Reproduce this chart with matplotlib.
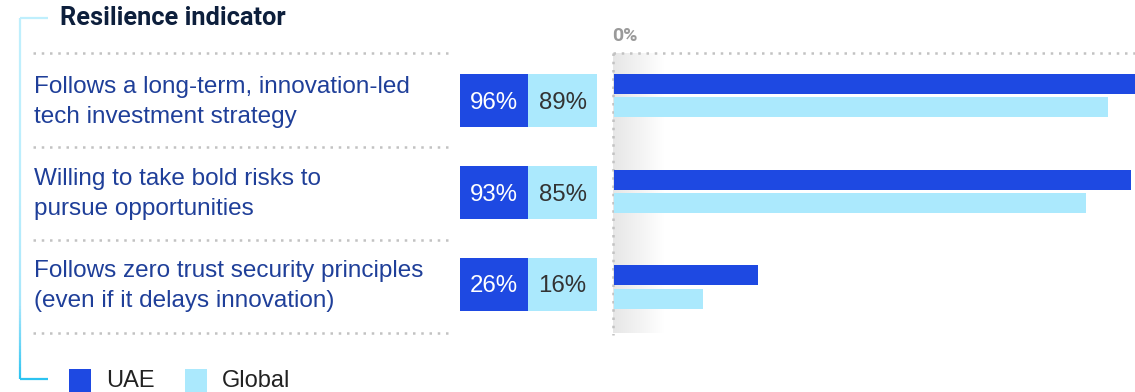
import numpy as np
import matplotlib.pyplot as plt
from matplotlib.patches import Rectangle
from matplotlib.collections import LineCollection

plt.rcParams['font.family'] = ['Liberation Sans', 'DejaVu Sans']

# --- data ---
indicators = [
    "Follows a long-term, innovation-led\ntech investment strategy",
    "Willing to take bold risks to\npursue opportunities",
    "Follows zero trust security principles\n(even if it delays innovation)",
]
uae = [96, 93, 26]
global_vals = [89, 85, 16]
series_names = ["UAE", "Global"]

UAE_COLOR = "#1e49e2"
GLOBAL_COLOR = "#abe9fd"
LABEL_COLOR = "#1f3f99"
DOT_COLOR = "#c2c2c2"

W, H = 1135, 392
fig = plt.figure(figsize=(W / 100, H / 100), dpi=100)

# overlay axes in pixel units for the frame, table and legend
ov = fig.add_axes([0, 0, 1, 1])
ov.set_xlim(0, W)
ov.set_ylim(H, 0)
ov.axis("off")

# row geometry (pixels): bars and the label/table column use slightly different pitches
row_y0, row_step = 95.5, 95.75
box_y0, box_step = 100.5, 92.0
top_y, bot_y = 53, 333
zero_x = 613
px_per_pct = 5.56


def box_center(i):
    return box_y0 + i * box_step


def dotted(ax, xs, ys, **kw):
    ax.plot(xs, ys, color=DOT_COLOR, lw=1.8, linestyle=(0, (1, 2.3)),
            dash_capstyle="butt", **kw)


# bracket on the left, fading from pale to deeper cyan
yy = np.linspace(18, 379, 120)
segs = [[(20, yy[k]), (20, yy[k + 1])] for k in range(len(yy) - 1)]
cmap = plt.matplotlib.colors.LinearSegmentedColormap.from_list("br", ["#bfeffd", "#a6e6fb", "#2cc3f1"])
lc = LineCollection(segs, colors=cmap(np.linspace(0, 1, len(segs)) ** 3), linewidths=1.6)
ov.add_collection(lc)
ov.plot([20, 48], [18, 18], color="#bfeffd", lw=1.6, solid_capstyle="butt")
ov.plot([20, 48], [379, 379], color="#2cc3f1", lw=1.6, solid_capstyle="butt")

ov.text(60, 18, "Resilience indicator", fontsize=18.3, fontweight="bold",
        family=["Roboto", "DejaVu Sans"], color="#0d1f3c", va="center", ha="left")

# separators on the label side
for y in [top_y, 147, 240, bot_y]:
    dotted(ov, [33, 451], [y, y])

# soft shading right of the zero line
grad = np.linspace(0, 1, 200).reshape(1, -1)
shade = plt.matplotlib.colors.LinearSegmentedColormap.from_list("sh", ["#e6e6e6", "#ffffff"])
ov.imshow(grad, cmap=shade, extent=[zero_x, 664, bot_y, top_y], aspect="auto", zorder=0)

dotted(ov, [zero_x, W], [top_y, top_y])
dotted(ov, [zero_x, zero_x], [top_y, bot_y + 2])
ov.text(zero_x - 1, 36, "0%", fontsize=14, fontweight="bold", family=["Roboto", "DejaVu Sans"],
        color="#9a9a9a", ha="left", va="center")

# labels and value boxes
for i, label in enumerate(indicators):
    cy = box_center(i)
    ov.text(34, cy + 1.5, label, fontsize=17.5, color=LABEL_COLOR, ha="left",
            va="center", linespacing=1.5)
    ov.add_patch(Rectangle((460, cy - 26.5), 68, 53, color=UAE_COLOR, lw=0))
    ov.add_patch(Rectangle((528, cy - 26.5), 69, 53, color=GLOBAL_COLOR, lw=0))
    ov.text(494, cy + 2, f"{uae[i]}%", fontsize=17.3, color="white",
            ha="center", va="center")
    ov.text(562.5, cy + 2, f"{global_vals[i]}%", fontsize=17.3, color="#333333",
            ha="center", va="center")

# legend
for x0, name, col in [(69, series_names[0], UAE_COLOR), (185, series_names[1], GLOBAL_COLOR)]:
    ov.add_patch(Rectangle((x0, 369), 22, 24, color=col, lw=0))
    ov.text(x0 + 37, 381, name, fontsize=17, color="#222222", ha="left", va="center")

# bar axes: x in percent, y in row units
ax = fig.add_axes([zero_x / W, 1 - bot_y / H, 1 - zero_x / W, (bot_y - top_y) / H])
ax.patch.set_alpha(0)
ax.set_xlim(0, (W - zero_x) / px_per_pct)
ax.set_ylim((bot_y - row_y0) / row_step, (top_y - row_y0) / row_step)
ax.axis("off")

idx = np.arange(len(indicators))
bh = 20 / row_step
off = 11.75 / row_step
ax.barh(idx - off, uae, height=bh, color=UAE_COLOR, lw=0, left=0.1)
ax.barh(idx + off, global_vals, height=bh, color=GLOBAL_COLOR, lw=0, left=0.1)

fig.savefig("out.png", dpi=100)
